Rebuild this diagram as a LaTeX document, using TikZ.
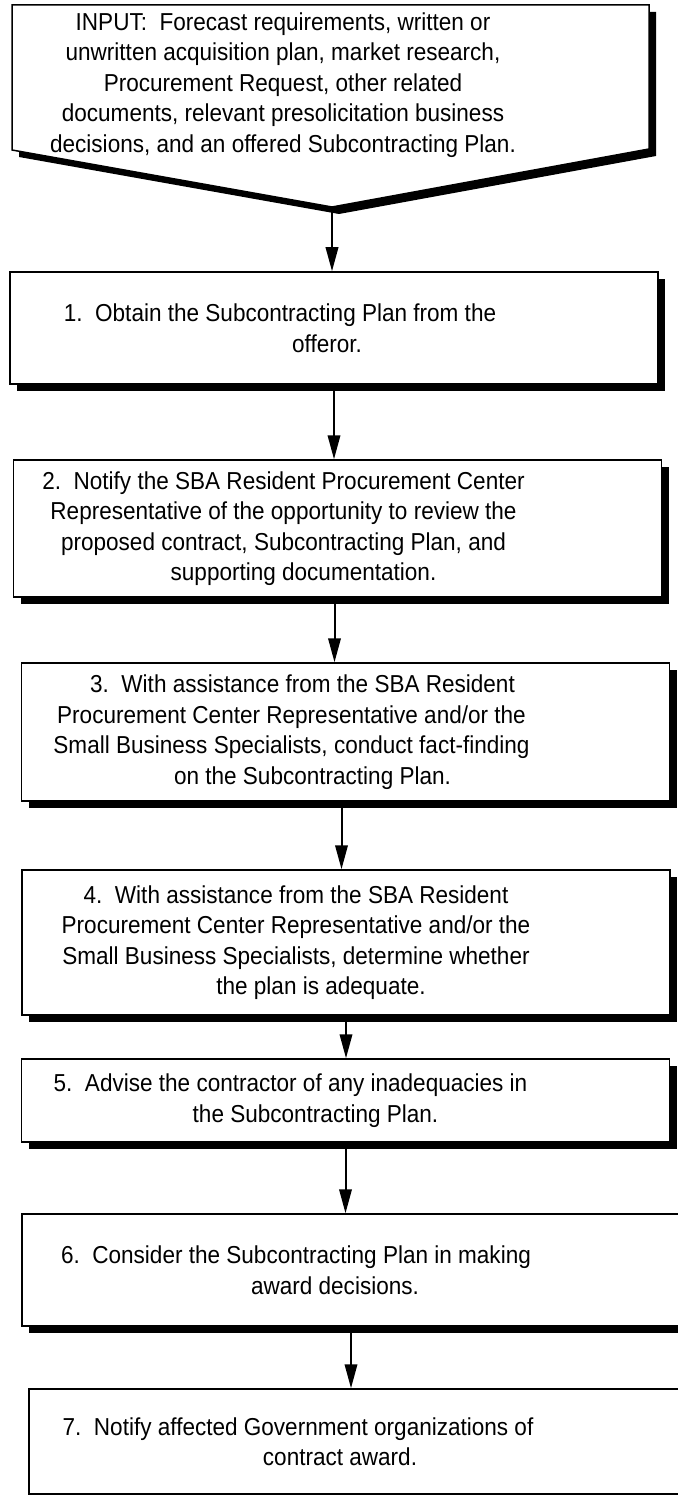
\documentclass[tikz,border=0pt]{standalone}
\usepackage{fontspec}
\setmainfont{Liberation Sans}[FakeStretch=0.92]
\usetikzlibrary{arrows.meta, shadows}

\begin{document}
\begin{tikzpicture}[x=1pt, y=-1pt,
    shade/.style={drop shadow={shadow xshift=7pt, shadow yshift=-7pt, opacity=1, fill=black}},
    stepbox/.style={draw, line width=1.5pt, fill=white, minimum width=648pt, inner sep=0pt, shade},
    steptext/.style={align=center, inner sep=0pt, font=\fontsize{24.5}{30.5}\selectfont},
    arr/.style={line width=2pt, -{Triangle[length=24pt, width=12.5pt]}}
]
    \useasboundingbox (0,0) rectangle (677,1495);

    % Input
    \draw[line width=1.5pt, fill=white, shade] (12,5) -- (649,5) -- (649,149) -- (332,207) -- (12,150) -- cycle;
    \coordinate (tip) at (332,207);
    \node[steptext] (input) at (283,85) {INPUT:\ \ Forecast requirements, written or\\
        unwritten acquisition plan, market research,\\
        Procurement Request, other related\\
        documents, relevant presolicitation business\\
        decisions, and an offered Subcontracting Plan.};

    % Steps
    \node[stepbox, minimum height=112pt] (b1) at (334,328) {};
    \node[steptext] (t1) at ([xshift=-54pt]b1.center) {1.\ \ Obtain the Subcontracting Plan from the\\
        \hspace*{94pt}offeror.};

    \node[stepbox, minimum height=137pt] (b2) at (337.5,528.5) {};
    \node[steptext] (t2) at ([xshift=-54pt]b2.center) {2.\ \ Notify the SBA Resident Procurement Center\\
        Representative of the opportunity to review the\\
        proposed contract, Subcontracting Plan, and\\
        \hspace*{40pt}supporting documentation.};

    \node[stepbox, minimum height=138pt] (b3) at (345.5,732) {};
    \node[steptext] (t3) at ([xshift=-54pt]b3.center) {\hspace*{22pt}3.\ \ With assistance from the SBA Resident\\
        Procurement Center Representative and/or the\\
        Small Business Specialists, conduct fact-finding\\
        \hspace*{42pt}on the Subcontracting Plan.};

    \node[stepbox, minimum height=145pt] (b4) at (346,942.5) {};
    \node[steptext] (t4) at ([xshift=-50pt]b4.center) {4.\ \ With assistance from the SBA Resident\\
        Procurement Center Representative and/or the\\
        Small Business Specialists, determine whether\\
        \hspace*{50pt}the plan is adequate.};

    \node[stepbox, minimum height=83pt] (b5) at (345.5,1100.5) {};
    \node[steptext] (t5) at ([xshift=-55pt]b5.center) {5.\ \ Advise the contractor of any inadequacies in\\
        \hspace*{50pt}the Subcontracting Plan.};

    % last two run off the right edge
    \node[stepbox, minimum width=660pt, minimum height=112pt] (b6) at (352,1270) {};
    \node[steptext] (t6) at ([xshift=-56pt]b6.center) {6.\ \ Consider the Subcontracting Plan in making\\
        \hspace*{78pt}award decisions.};

    \node[stepbox, minimum width=660pt, minimum height=105pt] (b7) at (359,1441.5) {};
    \node[steptext] (t7) at ([xshift=-61pt]b7.center) {7.\ \ Notify affected Government organizations of\\
        \hspace*{84pt}contract award.};

    % Arrows
    \draw[arr] (tip) -- (tip |- b1.north);
    \draw[arr] (b1.south) -- (b1.south |- b2.north);
    \draw[arr] ([xshift=-3pt]b2.south) -- ([xshift=-3pt]b2.south |- b3.north);
    \draw[arr] ([xshift=-4pt]b3.south) -- ([xshift=-4pt]b3.south |- b4.north);
    \draw[arr] (b4.south) -- (b4.south |- b5.north);
    \draw[arr] (b5.south) -- (b5.south |- b6.north);
    \draw[arr] ([xshift=-1pt]b6.south) -- ([xshift=-1pt]b6.south |- b7.north);
\end{tikzpicture}
\end{document}
